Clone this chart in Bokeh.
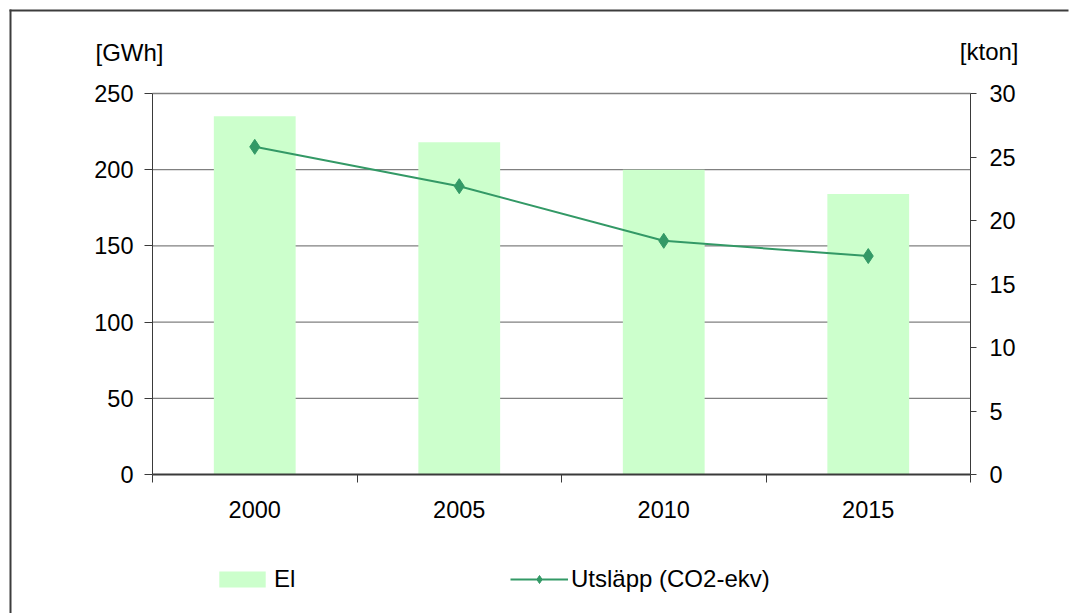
from bokeh.plotting import figure
from bokeh.models import (Range1d, LinearAxis, FixedTicker, Legend, LegendItem,
                          Label, ColumnDataSource)
from bokeh.embed import file_html
from bokeh.resources import INLINE

# Data
years = ["2000", "2005", "2010", "2015"]
el_gwh = [235, 218, 200, 184]            # electricity use [GWh]
co2_kton = [25.8, 22.7, 18.4, 17.2]      # emissions [kton CO2-ekv]
left_ticks = [0, 50, 100, 150, 200, 250]
right_ticks = [0, 5, 10, 15, 20, 25, 30]
GWH_MAX, KTON_MAX = 250, 30

# Page and plot-area geometry (pixels)
W, H = 1071, 613
PLOT_L, PLOT_R, PLOT_T, PLOT_B = 152, 970, 93, 474
FRAME_INSET = 10

FONT = "Liberation Sans"
FS = "23.5px"
FS_TEXT = "24px"
BAR_COLOR = "#CCFFCC"
LINE_COLOR = "#339966"
AXIS_COLOR = "#3a3a3a"
GRID_COLOR = "#808080"
FRAME_COLOR = "#3c3c3c"

n = len(years)
xpos = [i + 0.5 for i in range(n)]
src = ColumnDataSource(dict(x=xpos, year=years, el=el_gwh, co2=co2_kton))

# The canvas is the data frame; ranges are stretched so that the plot area
# (0..n, 0..GWH_MAX) lands at PLOT_L..PLOT_R / PLOT_B..PLOT_T.
px_x = (PLOT_R - PLOT_L) / n
px_y = (PLOT_B - PLOT_T) / GWH_MAX
x_lo, x_hi = -PLOT_L / px_x, (W - PLOT_L) / px_x
y_lo, y_hi = -(H - PLOT_B) / px_y, PLOT_B / px_y
k = KTON_MAX / GWH_MAX


def sx(px):
    return (px - PLOT_L) / px_x


def sy(py):
    return (PLOT_B - py) / px_y


p = figure(width=W, height=H, output_backend="svg", toolbar_location=None,
           x_range=Range1d(x_lo, x_hi), y_range=Range1d(y_lo, y_hi),
           min_border=0, x_axis_location=None, y_axis_location=None)
p.extra_y_ranges = {"kton": Range1d(y_lo * k, y_hi * k)}
p.outline_line_color = None
p.background_fill_color = "white"
p.border_fill_color = "white"
p.grid.visible = False

# Chart frame border: top and left edges
fx, fy = sx(FRAME_INSET), sy(FRAME_INSET)
p.segment(x0=[fx - 1 / px_x, fx], y0=[fy, fy + 1 / px_y],
          x1=[sx(W - 3), fx], y1=[fy, y_lo],
          line_color=FRAME_COLOR, line_width=2, line_cap="butt")

# Axes, pinned to the edges of the plot area
xaxis = LinearAxis(ticker=FixedTicker(ticks=xpos, minor_ticks=list(range(n + 1))),
                   fixed_location=0, bounds=(0, n))
xaxis.major_label_overrides = {x: y for x, y in zip(xpos, years)}
xaxis.major_tick_out = 0
xaxis.major_tick_in = 0
xaxis.minor_tick_out = 8
xaxis.minor_tick_in = 0
xaxis.minor_tick_line_color = AXIS_COLOR
xaxis.axis_line_color = AXIS_COLOR
xaxis.axis_line_width = 2
xaxis.major_label_standoff = 18
p.add_layout(xaxis, "below")

yaxis = LinearAxis(ticker=FixedTicker(ticks=left_ticks),
                   fixed_location=0, bounds=(0, GWH_MAX))
yaxis.major_tick_out = 8
yaxis.major_tick_in = 0
yaxis.minor_tick_line_color = None
yaxis.axis_line_color = AXIS_COLOR
yaxis.major_tick_line_color = AXIS_COLOR
yaxis.major_label_standoff = 11
p.add_layout(yaxis, "left")

raxis = LinearAxis(y_range_name="kton", ticker=FixedTicker(ticks=right_ticks),
                   fixed_location=n, bounds=(0, KTON_MAX))
raxis.major_tick_out = 6
raxis.major_tick_in = 0
raxis.minor_tick_line_color = None
raxis.axis_line_color = AXIS_COLOR
raxis.major_tick_line_color = AXIS_COLOR
raxis.major_label_standoff = 13
p.add_layout(raxis, "right")

for ax in (xaxis, yaxis, raxis):
    ax.major_label_text_font = FONT
    ax.major_label_text_font_size = FS
    ax.major_label_text_color = "black"

# Horizontal gridlines across the plot area
grid_y = left_ticks[1:]
p.segment(x0=[0] * len(grid_y), x1=[n] * len(grid_y), y0=grid_y, y1=grid_y,
          line_color=GRID_COLOR, line_width=1.3)

# Bars and line
bars = p.vbar(x="x", top="el", width=0.4, source=src,
              fill_color=BAR_COLOR, line_color=None)
line = p.line(x="x", y="co2", source=src, y_range_name="kton",
              line_color=LINE_COLOR, line_width=2)
pts = p.scatter(x="x", y="co2", source=src, y_range_name="kton",
                marker="diamond", size=15, fill_color=LINE_COLOR,
                line_color=LINE_COLOR)

# Unit labels above the axes
p.add_layout(Label(x=sx(95), y=sy(52), text="[GWh]", text_font=FONT,
                   text_font_size=FS_TEXT, text_color="black",
                   text_baseline="alphabetic"))
p.add_layout(Label(x=sx(1018), y=sy(51), text="[kton]", text_font=FONT,
                   text_font_size=FS_TEXT, text_color="black", text_align="right",
                   text_baseline="alphabetic"))

legend = Legend(items=[LegendItem(label="El", renderers=[bars]),
                       LegendItem(label="Utsläpp (CO2-ekv)", renderers=[line, pts])],
                orientation="horizontal", location=(213, 20),
                glyph_width=58, glyph_height=20, label_height=27,
                label_standoff=3, label_width=236, spacing=0,
                padding=0, margin=0,
                border_line_alpha=0, background_fill_alpha=0,
                label_text_font=FONT, label_text_font_size=FS_TEXT,
                label_text_color="black")
p.add_layout(legend)

open("out.html", "w").write(file_html(p, INLINE))
